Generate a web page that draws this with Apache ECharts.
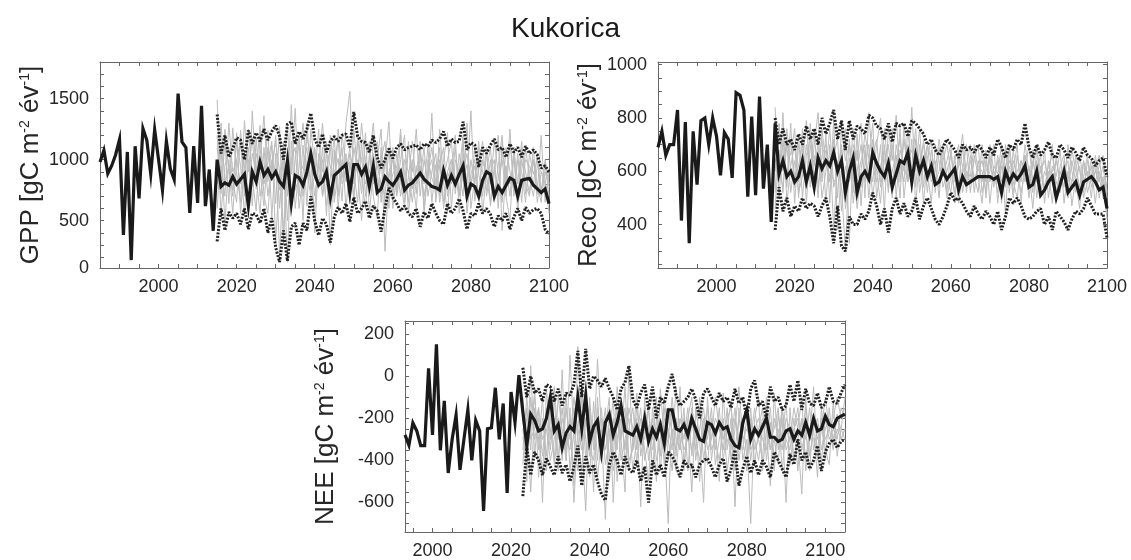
<!DOCTYPE html>
<html>
<head>
<meta charset="utf-8">
<script src="https://cdn.jsdelivr.net/npm/echarts@6/dist/echarts.min.js"></script>
<style>
  html, body { margin: 0; padding: 0; background: #fff; }
  #chart { width: 1131px; height: 560px; }
</style>
</head>
<body>
<div id="chart"></div>
<script>
// ---- Kukorica: GPP, Reco and NEE, observed period + projection ensemble ----

const gppHistStart = 1985;
const gppFutStart = 2015;
const recoHistStart = 1985;
const recoFutStart = 2015;
const neeHistStart = 1993;
const neeFutStart = 2023;

// GPP [gC m-2 yr-1]
const gppHist = [981, 1077, 886, 950, 1040, 1165, 382, 1063, 177, 1110,
  682, 1255, 1159, 881, 1246, 1000, 750, 1153, 927, 837,
  1541, 1145, 1099, 564, 1110, 646, 1440, 619, 919, 417];
const gppMean = [1000, 780, 810, 790, 860, 800, 840, 880, 620, 900,
  820, 980, 870, 920, 850, 900, 820, 780, 990, 640,
  870, 850, 790, 900, 1050, 880, 790, 820, 900, 690,
  870, 900, 930, 960, 730, 960, 960, 880, 940, 780,
  950, 730, 760, 860, 820, 790, 840, 900, 750, 790,
  810, 850, 890, 840, 810, 780, 770, 750, 910, 790,
  870, 800, 880, 950, 700, 800, 780, 700, 830, 900,
  880, 700, 780, 730, 790, 850, 830, 700, 830, 840,
  845, 790, 760, 730, 760, 640];
const gppUpper = [1370, 1050, 1200, 1020, 1090, 1180, 1160, 1000, 1240, 1130,
  1220, 1150, 1250, 1160, 1230, 1280, 1190, 1000, 1290, 1310,
  1130, 1230, 1170, 1250, 1380, 1170, 1100, 1210, 1060, 1150,
  1190, 1150, 1200, 1210, 1100, 1390, 1190, 1150, 1140, 1060,
  1200, 1020, 930, 1000, 1090, 1010, 1100, 1130, 1080, 1100,
  1110, 1120, 1080, 1130, 1110, 1160, 1140, 1170, 1230, 1110,
  1170, 1140, 1150, 1310, 1080, 1140, 1120, 940, 1100, 1050,
  1120, 1170, 1080, 1100, 1020, 1130, 1060, 1100, 1020, 1110,
  1050, 1080, 1040, 930, 950, 900];
const gppLower = [330, 600, 420, 570, 520, 560, 470, 600, 430, 560,
  550, 480, 600, 400, 520, 280, 160, 420, 170, 450,
  480, 300, 480, 420, 700, 500, 380, 520, 470, 320,
  530, 610, 560, 640, 490, 690, 560, 600, 660, 520,
  620, 580, 410, 600, 770, 690, 640, 580, 620, 560,
  530, 600, 450, 570, 520, 640, 560, 500, 470, 640,
  560, 600, 680, 580, 430, 560, 540, 640, 560, 600,
  550, 450, 540, 500, 560, 430, 530, 600, 500, 610,
  560, 590, 600, 560, 430, 390];
const gppRuns = [
  [1490, 720, 1150, 640, 1260, 880, 650, 1320, 900, 1180,
   760, 1020, 1360, 820, 1120, 640, 1270, 300, 1060, 880,
   1420, 700, 1120, 620, 1250, 960, 760, 1100, 540, 1200,
   880, 1010, 660, 1300, 1560, 800, 1000, 720, 1220, 560,
   920, 1150, 650, 980, 1310, 700, 1050, 820, 610, 1120,
   900, 1250, 700, 1000, 820, 1380, 650, 950, 1100, 700,
   880, 1200, 560, 1050, 800, 1400, 660, 950, 1150, 700,
   900, 1000, 600, 1150, 800, 1250, 700, 1000, 900, 650,
   1050, 880, 1000, 750, 980, 700],
  [600, 1100, 480, 1000, 700, 1220, 560, 950, 1100, 620,
   1180, 700, 900, 1240, 520, 1050, 220, 900, 1300, 620,
   820, 1150, 500, 1300, 800, 600, 1050, 900, 1150, 300,
   1080, 700, 1200, 950, 640, 1250, 880, 500, 1000, 1150,
   700, 520, 1100, 250, 900, 1000, 720, 1200, 880, 650,
   1000, 720, 1150, 560, 900, 1000, 700, 1250, 820, 560,
   1000, 760, 900, 1200, 560, 880, 1000, 650, 780, 1100,
   620, 880, 1200, 420, 950, 700, 1080, 560, 1000, 800,
   700, 1100, 650, 900, 850, 560],
  [900, 1300, 800, 950, 560, 1000, 1150, 700, 1250, 850,
   580, 1200, 800, 980, 1150, 330, 900, 1000, 160, 1150,
   600, 950, 1300, 900, 700, 1100, 800, 1000, 620, 850,
   1200, 600, 1000, 820, 1050, 900, 650, 1150, 700, 1000,
   1300, 850, 720, 1050, 600, 1100, 750, 1000, 1200, 560,
   850, 600, 1050, 800, 1100, 650, 960, 700, 1000, 1220,
   600, 1000, 900, 700, 1300, 600, 850, 1150, 560, 900,
   1100, 700, 950, 1200, 700, 500, 1100, 800, 1150, 720,
   900, 1000, 720, 1200, 650, 900],
  [1100, 850, 1250, 900, 750, 1150, 950, 560, 1000, 780,
   1050, 900, 620, 1100, 870, 1200, 600, 1050, 700, 1450,
   750, 850, 950, 1100, 750, 860, 1250, 700, 920, 1100,
   650, 900, 1100, 600, 980, 700, 1150, 1000, 800, 900,
   1050, 700, 1000, 1150, 750, 880, 950, 700, 1000, 900,
   650, 950, 850, 1100, 700, 900, 1050, 650, 850, 1000,
   1150, 720, 1050, 820, 960, 750, 1100, 880, 700, 1050,
   800, 1150, 880, 650, 1100, 900, 750, 1050, 650, 1100,
   850, 700, 950, 900, 800, 680],
  [1200, 560, 950, 1100, 820, 650, 1240, 880, 700, 1050,
   900, 1280, 700, 560, 1000, 900, 750, 1150, 500, 1000,
   1100, 600, 880, 1200, 1000, 700, 950, 1300, 800, 600,
   1000, 1150, 800, 900, 1100, 650, 1200, 850, 600, 1050,
   800, 1000, 1250, 600, 850, 1050, 700, 900, 800, 1150,
   760, 900, 1100, 600, 1000, 850, 750, 1100, 650, 900,
   1000, 850, 700, 1150, 650, 1000, 800, 1100, 900, 750,
   1000, 650, 850, 1000, 700, 1150, 800, 650, 1100, 900,
   720, 1000, 800, 650, 1000, 800],
  [800, 950, 700, 1300, 900, 1000, 800, 1050, 600, 1400,
   850, 560, 1100, 700, 950, 1150, 900, 400, 1100, 700,
   1000, 1200, 700, 950, 1050, 400, 1000, 700, 1050, 950,
   700, 1250, 850, 1050, 700, 1100, 900, 1300, 950, 700,
   1150, 950, 800, 700, 1100, 600, 900, 1250, 650, 850,
   1150, 800, 950, 700, 900, 1100, 800, 1000, 600, 900,
   800, 1100, 700, 900, 1050, 800, 950, 700, 1000, 850,
   650, 950, 700, 1050, 900, 800, 1000, 700, 800, 1000,
   950, 800, 1050, 700, 900, 780]
];

// Reco [gC m-2 yr-1]
const recoHist = [690, 750, 660, 700, 700, 830, 415, 785, 330, 750,
  550, 790, 800, 700, 800, 730, 585, 745, 720, 575,
  895, 885, 830, 505, 805, 510, 880, 535, 700, 410];
const recoMean = [780, 590, 640, 580, 600, 560, 580, 640, 560, 620,
  540, 650, 610, 640, 620, 670, 600, 640, 520, 600,
  650, 520, 580, 600, 570, 670, 630, 600, 580, 630,
  540, 590, 640, 630, 670, 560, 660, 600, 640, 580,
  620, 550, 560, 600, 570, 590, 610, 530, 580, 550,
  560, 570, 580, 580, 580, 580, 570, 580, 520, 600,
  560, 590, 570, 590, 620, 540, 550, 600, 510, 530,
  560, 580, 500, 550, 600, 520, 540, 560, 510, 560,
  570, 580, 560, 530, 540, 460];
const recoUpper = [800, 700, 760, 700, 720, 680, 740, 700, 770, 720,
  760, 700, 800, 740, 780, 830, 720, 790, 680, 790,
  720, 770, 760, 740, 810, 800, 770, 760, 720, 780,
  710, 780, 770, 780, 730, 790, 780, 760, 740, 700,
  720, 680, 660, 690, 720, 700, 680, 650, 700, 680,
  690, 670, 700, 680, 650, 690, 660, 720, 690, 650,
  700, 680, 720, 700, 780, 690, 650, 700, 660, 680,
  710, 660, 650, 700, 680, 650, 690, 670, 640, 690,
  660, 650, 620, 640, 650, 580];
const recoLower = [380, 540, 450, 500, 430, 470, 450, 500, 460, 480,
  470, 430, 470, 500, 430, 330, 470, 320, 300, 430,
  400, 400, 440, 420, 450, 520, 470, 400, 460, 370,
  460, 500, 440, 480, 430, 450, 500, 420, 470, 500,
  460, 420, 400, 430, 470, 520, 490, 500, 480, 450,
  430, 470, 440, 420, 450, 430, 400, 450, 380, 430,
  500, 480, 500, 470, 430, 420, 430, 450, 460, 400,
  430, 380, 450, 430, 410, 380, 420, 450, 440, 460,
  500, 470, 440, 440, 440, 350];
const recoRuns = [
  [840, 500, 720, 560, 780, 480, 700, 620, 790, 540,
   700, 820, 560, 740, 480, 800, 380, 620, 760, 330,
   700, 640, 780, 500, 820, 620, 560, 700, 450, 760,
   640, 810, 560, 720, 600, 840, 540, 700, 480, 650,
   720, 520, 690, 580, 640, 700, 480, 660, 560, 620,
   700, 520, 640, 560, 680, 480, 620, 590, 700, 540,
   620, 500, 660, 560, 700, 600, 460, 640, 560, 680,
   500, 620, 580, 680, 480, 600, 560, 640, 520, 580,
   660, 540, 600, 560, 620, 500],
  [520, 780, 600, 700, 520, 640, 560, 760, 480, 700,
   580, 650, 720, 480, 700, 380, 640, 540, 300, 650,
   520, 740, 470, 680, 560, 720, 600, 480, 700, 520,
   760, 500, 680, 620, 560, 720, 480, 640, 700, 560,
   600, 640, 500, 700, 580, 520, 660, 480, 600, 700,
   520, 660, 580, 480, 640, 560, 600, 520, 660, 440,
   700, 560, 500, 640, 600, 540, 680, 500, 620, 520,
   600, 480, 660, 540, 600, 640, 470, 580, 620, 500,
   560, 620, 480, 600, 540, 440],
  [650, 560, 820, 480, 620, 700, 520, 580, 700, 600,
   760, 540, 660, 700, 560, 660, 720, 450, 620, 560,
   620, 460, 600, 740, 650, 560, 700, 800, 560, 640,
   500, 700, 620, 560, 760, 580, 650, 560, 720, 600,
   480, 700, 640, 540, 600, 660, 580, 540, 700, 520,
   640, 580, 520, 700, 500, 660, 560, 640, 480, 700,
   560, 640, 580, 520, 600, 700, 560, 600, 660, 480,
   640, 560, 500, 620, 660, 520, 640, 560, 460, 640,
   520, 580, 640, 500, 580, 420],
  [460, 680, 520, 760, 600, 540, 740, 500, 660, 720,
   620, 700, 500, 600, 760, 540, 600, 680, 500, 720,
   560, 680, 540, 620, 700, 500, 640, 560, 760, 600,
   700, 580, 760, 500, 640, 680, 600, 760, 540, 700,
   560, 600, 720, 620, 500, 580, 640, 700, 520, 600,
   580, 700, 600, 640, 560, 600, 700, 480, 620, 560,
   640, 600, 700, 480, 660, 560, 620, 700, 520, 600,
   560, 700, 520, 600, 540, 700, 600, 520, 660, 560,
   600, 500, 660, 580, 500, 560],
  [720, 600, 540, 700, 660, 760, 500, 680, 560, 640,
   660, 500, 760, 620, 580, 720, 500, 760, 640, 700,
   480, 600, 700, 560, 640, 780, 500, 620, 680, 540,
   600, 660, 500, 780, 560, 620, 760, 520, 620, 700,
   640, 560, 600, 700, 520, 680, 560, 620, 740, 580,
   560, 640, 700, 520, 600, 640, 540, 660, 560, 620,
   680, 520, 600, 640, 560, 620, 520, 680, 600, 540,
   620, 660, 560, 520, 640, 560, 680, 600, 540, 640,
   580, 640, 560, 620, 660, 520],
  [600, 740, 680, 540, 720, 580, 620, 700, 540, 780,
   540, 620, 600, 680, 620, 560, 580, 700, 460, 580,
   760, 560, 640, 700, 500, 660, 720, 540, 640, 700,
   560, 640, 720, 600, 700, 520, 720, 600, 660, 520,
   680, 580, 540, 640, 700, 600, 520, 680, 620, 560,
   660, 560, 620, 600, 520, 700, 600, 560, 640, 680,
   520, 680, 560, 600, 660, 500, 640, 560, 600, 640,
   560, 600, 640, 560, 620, 500, 560, 660, 600, 520,
   640, 560, 600, 660, 520, 600]
];

// NEE [gC m-2 yr-1]
const neeHist = [-279, -328, -222, -260, -330, -330, 37, -279, 151, -352,
  -117, -460, -300, -185, -445, -300, -160, -400, -210, -260,
  -640, -250, -245, -55, -300, -130, -555, -75, -220, 5];
const neeMean = [-170, -330, -180, -210, -260, -250, -200, -100, -260, -230,
  -340, -270, -240, -260, -100, -250, -90, -310, -240, -210,
  -360, -220, -180, -280, -220, -140, -260, -270, -280, -240,
  -300, -200, -310, -250, -290, -230, -320, -160, -160, -250,
  -260, -230, -280, -200, -250, -300, -310, -220, -230, -270,
  -220, -250, -240, -300, -330, -340, -220, -160, -300, -250,
  -280, -240, -200, -290, -290, -310, -300, -260, -250, -300,
  -260, -280, -220, -280, -200, -260, -250, -190, -230, -240,
  -200, -190, -180];
const neeUpper = [40, -100, 0, -80, -60, -120, -40, -50, -120, -60,
  -140, -80, -90, -40, 120, -100, 130, -60, 0, -20,
  -50, -10, -60, -100, -160, -60, -30, 50, -110, -150,
  -80, -40, -160, -50, -200, -100, -130, -50, 10, -90,
  -140, -120, -100, -60, -110, -200, -80, -60, -100, -140,
  -80, -120, -100, -150, -60, -130, -100, -200, -60, -20,
  -140, -120, -200, -50, -120, -100, -160, -140, -40, -120,
  -20, -160, -60, -130, -140, -80, -150, -130, -50, -120,
  -130, -80, -40];
const neeLower = [-570, -340, -470, -360, -400, -470, -390, -430, -470, -380,
  -460, -420, -500, -430, -330, -520, -380, -460, -420, -500,
  -560, -590, -420, -360, -400, -470, -380, -440, -460, -400,
  -500, -430, -600, -400, -470, -420, -480, -360, -380, -420,
  -480, -400, -430, -420, -480, -420, -400, -390, -430, -480,
  -420, -390, -500, -440, -350, -520, -440, -380, -460, -400,
  -470, -400, -430, -480, -360, -400, -440, -480, -370, -420,
  -300, -400, -360, -440, -400, -330, -450, -360, -320, -300,
  -340, -310, -300];
const neeRuns = [
  [-100, -500, 50, -380, -150, -600, -60, -300, -200, -450,
   30, -400, -150, -520, 140, -300, -640, -100, -350, 80,
   -250, -680, -150, -400, -50, -300, -550, 40, -350, -200,
   -620, -100, -400, -250, -500, -60, -300, -700, -150, -380,
   -50, -420, -250, -550, -150, -300, -600, -100, -400, -250,
   -500, -80, -350, -200, -620, -150, -400, -300, -700, -200,
   -100, -450, -250, -520, -80, -350, -200, -600, -150, -400,
   -300, -560, -100, -380, -250, -480, -150, -350, -420, -120,
   -380, -250, -100],
  [-420, -150, -350, -60, -480, -200, -380, -120, -420, -250,
   -350, -80, -450, -250, -380, -100, -300, -480, -120, -400,
   -150, -420, -300, -100, -500, -250, -150, -450, -300, -80,
   -380, -250, -150, -450, -200, -380, -100, -300, -450, -200,
   -350, -150, -450, -200, -350, -100, -280, -420, -200, -350,
   -150, -400, -250, -120, -450, -300, -200, -380, -150, -420,
   -250, -150, -400, -220, -450, -180, -300, -120, -420, -260,
   -150, -350, -250, -450, -180, -300, -220, -400, -150, -330,
   -180, -300, -250],
  [-250, -450, -100, -300, -200, -380, -150, -250, -400, -100,
   -250, -400, 100, -300, -450, -200, -100, -380, -250, -480,
   -300, -150, -400, -200, -350, -100, -420, -250, -150, -350,
   -200, -350, -500, -150, -300, -200, -420, -150, -280, -350,
   -200, -300, -150, -380, -250, -500, -200, -300, -150, -420,
   -300, -200, -450, -300, -150, -400, -250, -150, -350, -300,
   -400, -250, -150, -350, -300, -420, -150, -300, -350, -200,
   -450, -200, -300, -150, -350, -250, -400, -200, -300, -250,
   -300, -150, -200],
  [-300, -200, -550, -150, -350, -100, -450, -200, -50, -300,
   -150, -350, -200, -600, -250, -50, -400, -150, -550, -100,
   -400, -250, -100, -600, -200, -300, -50, -400, -350, -150,
   -300, -150, -250, -300, -100, -450, -200, -250, -350, -50,
   -300, -450, -200, -100, -400, -250, -150, -350, -300, -100,
   -250, -350, -150, -400, -250, -50, -300, -450, -200, -350,
   -300, -400, -100, -300, -250, -150, -450, -250, -300, -150,
   -250, -100, -450, -300, -50, -400, -250, -100, -250, -200,
   -100, -200, -150],
  [-200, -380, -250, -100, -300, -450, -200, -350, -100, -400,
   -200, -300, -350, -150, -300, -450, -200, -350, -400, -150,
   -350, -200, -500, -300, -150, -400, -300, -200, -450, -300,
   -150, -400, -300, -200, -400, -300, -150, -400, -250, -450,
   -250, -350, -300, -150, -300, -400, -250, -150, -350, -300,
   -400, -250, -300, -350, -200, -300, -350, -200, -400, -250,
   -200, -300, -350, -150, -400, -250, -350, -200, -250, -400,
   -300, -200, -400, -250, -300, -350, -200, -300, -250, -350,
   -250, -300, -250],
  [-350, -100, -300, -250, -150, -300, -250, -400, -300, -200,
   -400, -150, -300, -100, -250, -350, -200, -150, -300, -250,
   -200, -350, -250, -450, -300, -200, -350, -150, -250, -400,
   -250, -300, -150, -350, -250, -200, -350, -300, -100, -300,
   -350, -200, -250, -350, -200, -150, -400, -250, -300, -200,
   -250, -300, -200, -150, -350, -200, -300, -250, -300, -150,
   -300, -200, -250, -350, -200, -300, -150, -350, -300, -250,
   -200, -300, -150, -300, -250, -200, -350, -250, -200, -300,
   -200, -250, -300]
];

// Axis tick positions
const yearLabels = [2000, 2020, 2040, 2060, 2080, 2100];
const gppLabels = [500, 1000, 1500];
const recoLabels = [400, 600, 800, 1000];
const neeLabels = [-600, -400, -200, 0, 200];

const FONT = '"Liberation Sans", Arial, sans-serif';
const INK = '#1a1a1a';
const TXT = '#262626';

function pts(start, values) {
  return values.map((v, i) => [start + i, v]);
}
function steps(from, to, by) {
  const out = [];
  for (let v = from; v <= to + 1e-9; v += by) out.push(v);
  return out;
}

const panels = [
  { name: 'GPP', grid: { left: 100, top: 62, width: 449, height: 206 },
    x: [1985, 2100], y: [112, 1800], yLabels: gppLabels, yTicks: steps(200, 1700, 100),
    bottomLabel: '0', nameGap: 56,
    hist: gppHist, histStart: gppHistStart, fut: gppFutStart,
    mean: gppMean, upper: gppUpper, lower: gppLower, runs: gppRuns },
  { name: 'Reco', grid: { left: 658, top: 62, width: 449, height: 206 },
    x: [1985, 2100], y: [237, 1010], yLabels: recoLabels, yTicks: steps(250, 1000, 50),
    bottomLabel: null, nameGap: 56,
    hist: recoHist, histStart: recoHistStart, fut: recoFutStart,
    mean: recoMean, upper: recoUpper, lower: recoLower, runs: recoRuns },
  { name: 'NEE', grid: { left: 405, top: 321, width: 440, height: 221 },
    x: [1993, 2105], y: [-740, 262], yLabels: neeLabels, yTicks: steps(-700, 250, 50),
    bottomLabel: null, nameGap: 66,
    hist: neeHist, histStart: neeHistStart, fut: neeFutStart,
    mean: neeMean, upper: neeUpper, lower: neeLower, runs: neeRuns }
];

const grids = [], xAxes = [], yAxes = [], series = [];
const axisLineStyle = { color: '#666', width: 1 };

panels.forEach((p, k) => {
  grids.push(Object.assign({ containLabel: false }, p.grid));
  const xTicks = steps(1985, 2100, 5).filter(v => v > p.x[0] && v < p.x[1]);
  const yLabelVals = p.bottomLabel ? [p.y[0]].concat(p.yLabels) : p.yLabels;
  const baseX = {
    type: 'value', gridIndex: k, min: p.x[0], max: p.x[1],
    axisLine: { show: true, lineStyle: axisLineStyle, onZero: false },
    axisTick: { show: true, inside: true, length: 4, lineStyle: axisLineStyle, customValues: xTicks },
    splitLine: { show: false }
  };
  xAxes.push(Object.assign({}, baseX, {
    position: 'bottom',
    axisLabel: { show: true, customValues: yearLabels, fontSize: 18, color: TXT, fontFamily: FONT, margin: 10,
      formatter: v => String(v) }
  }));
  xAxes.push(Object.assign({}, baseX, { position: 'top', axisLabel: { show: false } }));
  const baseY = {
    type: 'value', gridIndex: k, min: p.y[0], max: p.y[1],
    axisLine: { show: true, lineStyle: axisLineStyle, onZero: false },
    axisTick: { show: true, inside: true, length: 4, lineStyle: axisLineStyle, customValues: p.yTicks },
    splitLine: { show: false }
  };
  yAxes.push(Object.assign({}, baseY, {
    position: 'left',
    name: p.name + ' [gC m{s|-2} év{s|-1}]',
    nameLocation: 'middle', nameGap: p.nameGap,
    nameTextStyle: { fontSize: 26, color: TXT, fontFamily: FONT,
      rich: { s: { fontSize: 14, verticalAlign: 'top', fontFamily: FONT, color: TXT } } },
    axisLabel: { show: true, customValues: yLabelVals, fontSize: 18, color: TXT, fontFamily: FONT, margin: 11,
      formatter: v => (p.bottomLabel && v === p.y[0]) ? p.bottomLabel : String(v) }
  }));
  yAxes.push(Object.assign({}, baseY, { position: 'right', axisLabel: { show: false } }));

  const xi = 2 * k, yi = 2 * k;
  p.runs.forEach(run => {
    series.push({ type: 'line', xAxisIndex: xi, yAxisIndex: yi, data: pts(p.fut, run),
      symbol: 'none', silent: true, z: 1,
      lineStyle: { color: '#bcbcbc', width: 1 } });
  });
  [p.upper, p.lower].forEach(band => {
    series.push({ type: 'line', xAxisIndex: xi, yAxisIndex: yi, data: pts(p.fut, band),
      symbol: 'none', silent: true, z: 2,
      lineStyle: { color: '#202020', width: 3, type: [2, 1.5] } });
  });
  series.push({ type: 'line', xAxisIndex: xi, yAxisIndex: yi,
    data: pts(p.histStart, p.hist).concat(pts(p.fut, p.mean)),
    symbol: 'none', silent: true, z: 3,
    lineStyle: { color: INK, width: 3.2, join: 'miter' } });
});

const chart = echarts.init(document.getElementById('chart'), null, { renderer: 'canvas' });
chart.setOption({
  animation: false,
  backgroundColor: '#ffffff',
  title: { text: 'Kukorica', left: 'center', top: 10,
    textStyle: { fontSize: 28, fontWeight: 'normal', color: '#1a1a1a', fontFamily: FONT } },
  grid: grids,
  xAxis: xAxes,
  yAxis: yAxes,
  series: series
});
</script>
</body>
</html>
